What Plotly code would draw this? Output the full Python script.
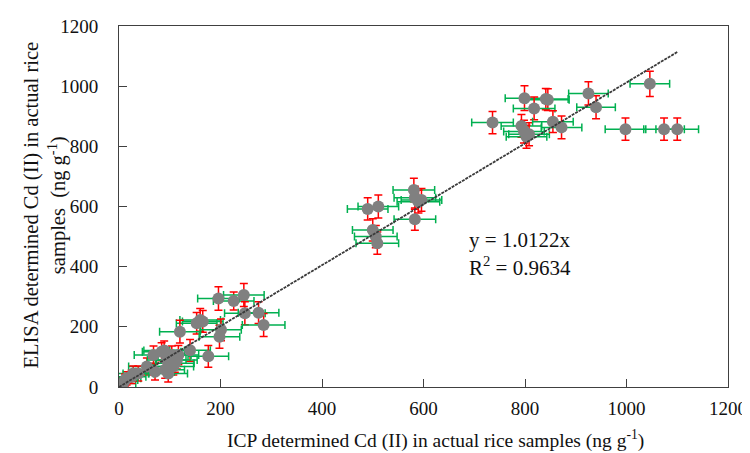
import plotly.graph_objects as go

# ICP (x) vs ELISA (y) determined Cd(II), with error bars
icp = [799, 841, 845, 818, 925, 940, 736, 793, 798, 803, 808, 855, 872, 998, 1074, 1100, 1046,
       581, 583, 590, 596, 583, 490, 511, 500, 506, 509,
       196, 226, 246, 248, 275, 285, 160, 153, 165, 201, 198, 120, 140, 176, 89, 117, 68, 84,
       114, 107, 91, 71, 55, 28, 8, 15, 97, 94, 38, 110, 104, 25, 12]
elisa = [960, 957, 955, 926, 976, 930, 879, 868, 849, 832, 840, 882, 863, 857, 857, 857, 1008,
         655, 629, 616, 622, 558, 592, 600, 522, 500, 478,
         294, 286, 306, 245, 247, 206, 223, 212, 218, 190, 167, 184, 122, 102, 121, 106, 106, 117,
         90, 68, 57, 51, 68, 45, 12, 29, 45, 90, 45, 79, 106, 34, 23]
icp_err = [38, 44, 42, 41, 39, 38, 41, 40, 40, 40, 40, 40, 40, 40, 40, 42, 39,
           41, 41, 42, 40, 41, 40, 40, 40, 42, 42,
           41, 40, 40, 40, 40, 42, 40, 40, 40, 40, 40, 40, 40, 40, 40, 40, 38, 38,
           40, 40, 38, 38, 36, 30, 25, 28, 38, 38, 30, 38, 38, 28, 25]
elisa_err = [41, 35, 36, 38, 39, 38, 37, 38, 38, 38, 38, 36, 38, 37, 37, 37, 42,
             39, 38, 38, 38, 37, 37, 38, 37, 37, 37,
             39, 30, 38, 38, 36, 38, 38, 36, 36, 36, 38, 38, 36, 36, 32, 32, 30, 30,
             30, 28, 28, 28, 28, 25, 20, 22, 28, 30, 25, 30, 30, 22, 20]

slope = 1.0122
fit_x = [0, 1100]
fit_y = [slope * v for v in fit_x]

tick_vals = [0, 200, 400, 600, 800, 1000, 1200]

x_title = "ICP determined Cd (II) in actual rice samples (ng g<sup>-1</sup>)"
y_title = "ELISA determined Cd (II) in actual rice<br>samples  (ng g<sup>-1</sup>)"
eq_text = "y = 1.0122x"
r2_text = "R<sup>2</sup> = 0.9634"

FONT = "Liberation Serif, Times New Roman, serif"
TXT = "#111"

fig = go.Figure()
fig.add_trace(go.Scatter(
    x=icp, y=elisa, mode="markers",
    marker=dict(size=12, color="#808080"),
    error_x=dict(type="data", array=icp_err, color="#00B050", thickness=1.5, width=4),
    error_y=dict(type="data", array=elisa_err, color="#FF0000", thickness=1.5, width=4),
    showlegend=False,
))
fig.add_trace(go.Scatter(
    x=fit_x, y=fit_y, mode="lines",
    line=dict(color="#3a3a3a", width=1.8, dash="3px,1px"),
    showlegend=False,
))

fig.add_annotation(x=686, y=489, xref="x", yref="y", text=eq_text,
                   showarrow=False, xanchor="left", yanchor="middle",
                   font=dict(family=FONT, size=21, color=TXT))
fig.add_annotation(x=686, y=402, xref="x", yref="y", text=r2_text,
                   showarrow=False, xanchor="left", yanchor="middle",
                   font=dict(family=FONT, size=21, color=TXT))

# axis titles as annotations (paper coords)
fig.add_annotation(x=0.5205, y=-0.1468, xref="paper", yref="paper", text=x_title,
                   showarrow=False, xanchor="center", yanchor="middle",
                   font=dict(family=FONT, size=19.5, color=TXT))
fig.add_annotation(x=-0.1206, y=0.504, xref="paper", yref="paper", text=y_title,
                   showarrow=False, xanchor="center", yanchor="middle", textangle=-90,
                   font=dict(family=FONT, size=20.5, color=TXT))

axis_common = dict(
    range=[0, 1200], tickvals=tick_vals, ticks="inside", ticklen=8,
    tickcolor="#404040", showline=True, linecolor="#404040", linewidth=1,
    mirror=True, showgrid=False, zeroline=False, automargin=False,
    tickfont=dict(family=FONT, size=19, color=TXT),
)

# page body has an 8px margin, so the figure is sized/offset to compensate
fig.update_layout(
    width=742, height=445,
    margin=dict(l=111, r=22, t=18, b=66),
    paper_bgcolor="white", plot_bgcolor="white",
    font=dict(family=FONT, color=TXT),
    xaxis=dict(**axis_common, ticklabelstandoff=4),
    yaxis=dict(**axis_common, ticklabelstandoff=16),
)

fig.write_html("out.html")
